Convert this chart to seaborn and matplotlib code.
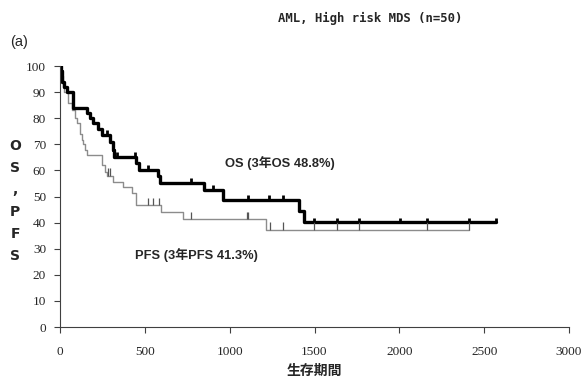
import matplotlib
matplotlib.use("Agg")
import matplotlib.pyplot as plt
import seaborn as sns
import pandas as pd
import numpy as np

# ---- data ----
os_days = [0, 5, 10, 14, 21, 43, 78, 157, 177, 196, 226, 246, 295, 310, 320,
           450, 466, 578, 588, 851, 960, 1410, 1440, 2570]
os_surv = [100, 98, 96, 94, 92, 90, 84, 82, 80, 78, 76, 73.6, 71, 68, 65.3,
           62.7, 60.2, 58, 55.3, 52.6, 48.8, 44.3, 40.1, 40.1]
os_censor_days = [277, 338, 442, 520, 772, 904, 1106, 1234, 1312, 1499, 1634,
                  1762, 2004, 2161, 2412, 2570]

pfs_days = [0, 5, 10, 15, 20, 25, 50, 69, 88, 98, 118, 128, 137, 147, 157,
            246, 265, 275, 315, 373, 423, 449, 593, 723, 1217, 2412]
pfs_surv = [100, 98, 96, 94, 92, 90, 86, 83, 80, 78, 74, 71.6, 70, 68, 66,
            62, 59.5, 57.9, 55.7, 53.7, 51.5, 46.7, 44, 41.3, 37.2, 37.2]
pfs_censor_days = [280, 292, 520, 550, 585, 770, 1100, 1110, 1238, 1312, 1499,
                   1634, 1764, 2165, 2412]

x_ticks = [0, 500, 1000, 1500, 2000, 2500, 3000]
y_ticks = [0, 10, 20, 30, 40, 50, 60, 70, 80, 90, 100]

title = "AML, High risk MDS (n=50)"
panel = "(a)"
xlabel = "生存期間"
ylabel = "O\nS\n,\nP\nF\nS"
os_label = "OS (3年OS 48.8%)"
pfs_label = "PFS (3年PFS 41.3%)"


def step_value(days, surv, t):
    idx = np.searchsorted(days, t, side="right") - 1
    return surv[max(idx, 0)]


sns.set_theme(style="white")
plt.rcParams["font.family"] = ["Noto Sans CJK JP", "DejaVu Sans"]

fig = plt.figure(figsize=(5.82, 3.87), dpi=100)
ax = fig.add_axes([60 / 582, (387 - 327) / 387, (569 - 60) / 582, (327 - 66) / 387])

os_df = pd.DataFrame({"day": os_days, "surv": os_surv})
pfs_df = pd.DataFrame({"day": pfs_days, "surv": pfs_surv})

sns.lineplot(data=pfs_df, x="day", y="surv", drawstyle="steps-post",
             estimator=None, color="#8c8c8c", lw=1.0, ax=ax)
sns.lineplot(data=os_df, x="day", y="surv", drawstyle="steps-post",
             estimator=None, color="black", lw=2.4, ax=ax)

# censor marks
pfs_cy = [step_value(pfs_days, pfs_surv, d) for d in pfs_censor_days]
ax.vlines(pfs_censor_days, pfs_cy, [v + 2.9 for v in pfs_cy], color="#555555", lw=0.9)
os_cy = [step_value(os_days, os_surv, d) for d in os_censor_days]
ax.vlines(os_censor_days, os_cy, [v + 1.8 for v in os_cy], color="black", lw=2.0)

ax.set_xlim(0, 3000)
ax.set_ylim(0, 100)
ax.set_xticks(x_ticks)
ax.set_yticks(y_ticks)
ax.set_xticklabels([str(v) for v in x_ticks], family="Liberation Serif", fontsize=9.5)
ax.set_yticklabels([str(v) for v in y_ticks], family="Liberation Serif", fontsize=9.5)
ax.tick_params(axis="both", which="both", direction="out", length=4, width=0.8,
               color="#404040", bottom=True, left=True)
ax.tick_params(axis="x", pad=10)
ax.tick_params(axis="y", pad=6)

for s in ["top", "right"]:
    ax.spines[s].set_visible(False)
for s in ["left", "bottom"]:
    ax.spines[s].set_color("#404040")
    ax.spines[s].set_linewidth(0.8)

ax.set_xlabel(xlabel, fontsize=10, fontweight="bold", labelpad=4)
ax.set_ylabel("")
fig.text(15 / 582, 1 - 201 / 387, ylabel, ha="center", va="center",
         fontsize=10, fontweight="bold", linespacing=1.72,
         family=["DejaVu Sans"])

fig.text(370 / 582, 1 - 18 / 387, title, ha="center", va="center",
         fontsize=8.8, fontweight="bold", family=["DejaVu Sans Mono"])
fig.text(10 / 582, 1 - 42 / 387, panel, ha="left", va="center", fontsize=10.5,
         family=["Liberation Sans"])

ax.text(975, 62.8, os_label, fontsize=9.3, fontweight="bold", ha="left", va="center",
        family=["Liberation Sans", "Noto Sans CJK JP"])
ax.text(443, 27.6, pfs_label, fontsize=9.3, fontweight="bold", ha="left", va="center",
        family=["Liberation Sans", "Noto Sans CJK JP"])

fig.savefig("out.png", dpi=100)
